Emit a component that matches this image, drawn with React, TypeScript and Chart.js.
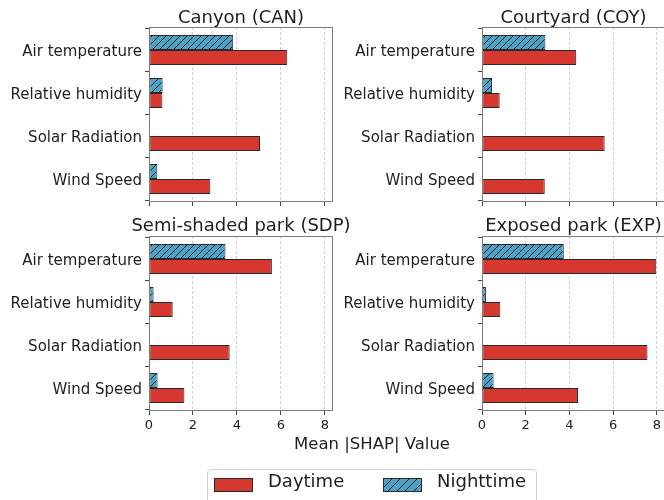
import React, { useEffect, useRef } from 'react';
import { Chart, registerables } from 'chart.js';

Chart.register(...registerables);
Chart.defaults.font.family = "'DejaVu Sans', sans-serif";

// ---------- data ----------
const categories = ['Air temperature', 'Relative humidity', 'Solar Radiation', 'Wind Speed'];
const xTickStep = 2;
const xMax = 8.37;
const siteTitles = ['Canyon (CAN)', 'Courtyard (COY)', 'Semi-shaded park (SDP)', 'Exposed park (EXP)'];
const canDay = [6.29, 0.61, 5.05, 2.79];
const canNight = [3.83, 0.62, 0, 0.38];
const coyDay = [4.31, 0.81, 5.61, 2.87];
const coyNight = [2.9, 0.46, 0, 0];
const sdpDay = [5.59, 1.08, 3.67, 1.61];
const sdpNight = [3.48, 0.21, 0, 0.39];
const expDay = [7.97, 0.84, 7.57, 4.39];
const expNight = [3.74, 0.18, 0, 0.53];
const seriesLabels = ['Daytime', 'Nighttime'];
const xLabel = 'Mean |SHAP| Value';

// ---------- styles ----------
const RED = '#d6372f';
const BLUE = '#4ba3c8';
const EDGE = '#2a2a2a';
const SPINE = '#7c7c7c';
const TICK = '#444444';
const TEXT = '#1e1e1e';
const FONT = "'DejaVu Sans', sans-serif";

const Y_AXIS_W = 149;
const PLOT_H = 175;
const PAD_TOP = 14;

function makeHatch(ctx: CanvasRenderingContext2D): CanvasPattern | string {
  const s = 7;
  const c = document.createElement('canvas');
  c.width = s;
  c.height = s;
  const g = c.getContext('2d');
  if (!g) return BLUE;
  g.fillStyle = BLUE;
  g.fillRect(0, 0, s, s);
  g.strokeStyle = '#1a1a1a';
  g.lineWidth = 1;
  g.beginPath();
  g.moveTo(0, s);
  g.lineTo(s, 0);
  g.moveTo(-1, 1);
  g.lineTo(1, -1);
  g.moveTo(s - 1, s + 1);
  g.lineTo(s + 1, s - 1);
  g.stroke();
  return ctx.createPattern(c, 'repeat') || BLUE;
}

const spinePlugin = {
  id: 'spines',
  afterDraw(chart: any) {
    const { ctx, chartArea: a } = chart;
    ctx.save();
    ctx.strokeStyle = SPINE;
    ctx.lineWidth = 1;
    const l = Math.round(a.left) + 0.5;
    const t = Math.round(a.top) + 0.5;
    const r = Math.round(a.right) - 0.5;
    const b = Math.round(a.bottom) - 0.5;
    ctx.strokeRect(l, t, r - l, b - t);
    ctx.restore();
  },
};

const keepIntegerTicks = (s: any) => {
  s.ticks = s.ticks.filter((t: any) => Number.isInteger(t.value));
};

type PanelProps = {
  day: number[];
  night: number[];
  showX: boolean;
  left: number;
  plotTop: number;
  plotW: number;
};

function Panel({ day, night, showX, left, plotTop, plotW }: PanelProps) {
  const ref = useRef<HTMLCanvasElement | null>(null);
  const xAxisH = showX ? 28 : 14;
  const w = Y_AXIS_W + plotW + 3;
  const h = PAD_TOP + PLOT_H + xAxisH;
  const top = plotTop - PAD_TOP;

  useEffect(() => {
    const canvas = ref.current;
    if (!canvas) return;
    const ctx = canvas.getContext('2d');
    if (!ctx) return;
    const hatch = makeHatch(ctx);
    const chart = new Chart(canvas, {
      type: 'bar',
      data: {
        datasets: [
          {
            label: seriesLabels[1],
            data: night.map((v, i) => ({ x: v, y: i })),
            backgroundColor: hatch as any,
            borderColor: EDGE,
            borderWidth: 1,
            borderSkipped: false,
          },
          {
            label: seriesLabels[0],
            data: day.map((v, i) => ({ x: v, y: i })),
            backgroundColor: RED,
            borderColor: EDGE,
            borderWidth: 1,
            borderSkipped: false,
          },
        ],
      } as any,
      options: {
        indexAxis: 'y',
        responsive: false,
        maintainAspectRatio: false,
        animation: false,
        devicePixelRatio: 1,
        layout: { padding: { top: PAD_TOP, right: 3, left: 0, bottom: 0 } },
        datasets: { bar: { categoryPercentage: 0.7, barPercentage: 1.0 } },
        plugins: { legend: { display: false }, tooltip: { enabled: false }, title: { display: false } },
        scales: {
          x: {
            type: 'linear',
            min: 0,
            max: xMax,
            offset: false,
            afterBuildTicks: keepIntegerTicks,
            afterFit: (s: any) => {
              s.height = xAxisH;
            },
            ticks: {
              stepSize: xTickStep,
              includeBounds: false,
              autoSkip: false,
              maxRotation: 0,
              padding: 3,
              color: TEXT,
              font: { size: 13, family: FONT },
              callback: (v: any) => (showX ? String(v) : ''),
            },
            grid: {
              color: '#c4c4c4',
              lineWidth: 0.8,
              drawTicks: true,
              tickLength: 4,
              tickColor: TICK,
              tickWidth: 1,
              tickBorderDash: [],
            },
            border: { display: false, dash: [3, 2] },
          },
          y: {
            type: 'linear',
            min: -0.535,
            max: 3.535,
            reverse: true,
            offset: false,
            afterBuildTicks: keepIntegerTicks,
            afterFit: (s: any) => {
              s.width = Y_AXIS_W;
            },
            ticks: {
              stepSize: 1,
              includeBounds: false,
              autoSkip: false,
              padding: 3,
              labelOffset: 2,
              color: TEXT,
              font: { size: 15, family: FONT },
              callback: (v: any) => (Number.isInteger(v) && categories[v] !== undefined ? categories[v] : ''),
            },
            grid: {
              drawOnChartArea: false,
              color: 'rgba(0,0,0,0)',
              tickLength: 4,
              tickColor: TICK,
              tickWidth: 1,
            },
            border: { display: false },
          },
        },
      } as any,
      plugins: [spinePlugin],
    });
    return () => chart.destroy();
  }, [day, night, showX, xAxisH]);

  return (
    <canvas
      ref={ref}
      width={w}
      height={h}
      style={{ position: 'absolute', left, top, width: w, height: h }}
    />
  );
}

function Title({ text, cx, baseline }: { text: string; cx: number; baseline: number }) {
  return (
    <div
      style={{
        position: 'absolute',
        left: cx - 200,
        width: 400,
        top: baseline - 15.2,
        height: 18,
        lineHeight: '18px',
        fontSize: 18,
        fontFamily: FONT,
        color: TEXT,
        textAlign: 'center',
        whiteSpace: 'nowrap',
      }}
    >
      {text}
    </div>
  );
}

export default function App() {
  const hatchCss = `repeating-linear-gradient(135deg, ${BLUE} 0px, ${BLUE} 5px, #1a1a1a 5px, #1a1a1a 6px)`;
  return (
    <div
      style={{
        position: 'fixed',
        left: 0,
        top: 0,
        width: 664,
        height: 500,
        overflow: 'hidden',
        background: '#ffffff',
      }}
    >
      <Panel day={canDay} night={canNight} showX={false} left={0} plotTop={27} plotW={184} />
      <Panel day={coyDay} night={coyNight} showX={false} left={333} plotTop={27} plotW={183} />
      <Panel day={sdpDay} night={sdpNight} showX={true} left={0} plotTop={236} plotW={184} />
      <Panel day={expDay} night={expNight} showX={true} left={333} plotTop={236} plotW={183} />

      <Title text={siteTitles[0]} cx={241} baseline={23} />
      <Title text={siteTitles[1]} cx={573.5} baseline={23} />
      <Title text={siteTitles[2]} cx={241} baseline={231} />
      <Title text={siteTitles[3]} cx={573.5} baseline={231} />

      <div
        style={{
          position: 'absolute',
          left: 172,
          width: 400,
          top: 435.8,
          height: 16,
          lineHeight: '16px',
          fontSize: 16.5,
          fontFamily: FONT,
          color: TEXT,
          textAlign: 'center',
          whiteSpace: 'nowrap',
        }}
      >
        {xLabel}
      </div>

      <div
        style={{
          position: 'absolute',
          left: 207,
          top: 469,
          width: 330,
          height: 44,
          border: '1px solid #d4d4d4',
          borderRadius: 4,
          boxSizing: 'border-box',
        }}
      />
      <div
        style={{
          position: 'absolute',
          left: 214,
          top: 478,
          width: 39,
          height: 14,
          background: RED,
          border: `1px solid ${EDGE}`,
          boxSizing: 'border-box',
        }}
      />
      <div
        style={{
          position: 'absolute',
          left: 268,
          top: 471.5,
          height: 18,
          lineHeight: '18px',
          fontSize: 18,
          fontFamily: FONT,
          color: TEXT,
          whiteSpace: 'nowrap',
        }}
      >
        {seriesLabels[0]}
      </div>
      <div
        style={{
          position: 'absolute',
          left: 383,
          top: 478,
          width: 39,
          height: 14,
          background: hatchCss,
          border: `1px solid ${EDGE}`,
          boxSizing: 'border-box',
        }}
      />
      <div
        style={{
          position: 'absolute',
          left: 437,
          top: 471.5,
          height: 18,
          lineHeight: '18px',
          fontSize: 18,
          fontFamily: FONT,
          color: TEXT,
          whiteSpace: 'nowrap',
        }}
      >
        {seriesLabels[1]}
      </div>
    </div>
  );
}
